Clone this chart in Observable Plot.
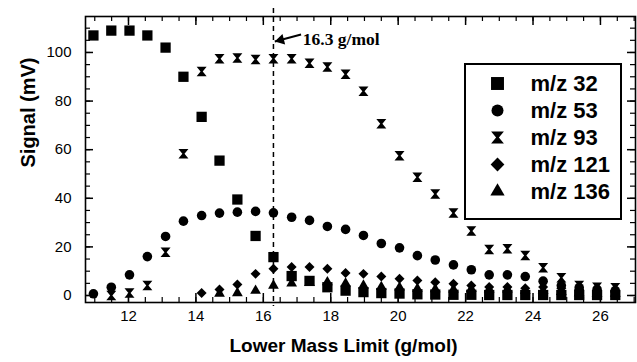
<!DOCTYPE html>
<html><head><meta charset="utf-8">
<script src="https://cdn.jsdelivr.net/npm/d3@7"></script>
<script src="https://cdn.jsdelivr.net/npm/@observablehq/plot@0.6"></script>
<style>
body{margin:0;background:#fff;}
#chart{position:relative;width:637px;height:362px;font-family:"Liberation Sans",Arial,sans-serif;}
#legend{position:absolute;left:464px;top:63px;width:154px;height:153px;border:2px solid #000;background:#fff;}
</style></head><body><div id="chart"><div id="legend"></div></div>
<script>
// ---- data ----
const massLimit = [10.96, 11.49, 12.03, 12.56, 13.1, 13.63, 14.17, 14.7, 15.23, 15.77,
  16.3, 16.84, 17.37, 17.9, 18.44, 18.97, 19.5, 20.04, 20.57, 21.1,
  21.64, 22.17, 22.7, 23.24, 23.77, 24.3, 24.84, 25.37, 25.9, 26.44];
const mz32 = [107, 109, 109, 107, 102, 90, 73.5, 55.5, 39.5, 24.5,
  15.8, 8, 6, 3.4, 2, 1.4, 1, 0.8, 0.5, 0.4,
  0.3, 0.3, 0.2, 0.2, 0.2, 0.2, 0.2, 0.2, 0.2, 0.2];
const mz53 = [0.7, 3.4, 8.5, 16, 24.3, 30.6, 32.9, 33.9, 34.3, 34.6,
  34, 32.2, 30.9, 28.4, 27.2, 24.7, 21.4, 19.6, 16.4, 14.6,
  12.6, 10.6, 8.5, 8.5, 7.8, 5.9, 4.1, 3.2, 2.5, 2];
const mz93 = [null, 0, 1, 4.1, 17.8, 58.3, 92.2, 97.4, 97.7, 97.1,
  97.4, 97.4, 95.6, 94, 91, 84, 70.7, 57.5, 48.7, 41.8,
  33.9, 26.5, 18.9, 19.2, 16.5, 11.4, 7.3, 4.1, 3.4, 3.2];
const mz121 = [null, null, null, null, null, null, 1, 2.5, 4.5, 8.9,
  11, 11.7, 11.7, 11, 9.3, 8.9, 7.8, 6.9, 6.2, 5.5,
  4.8, 4.1, 3.5, 3.5, 3, 3.5, 3, 2.5, 2, 1.5];
const mz136 = [null, null, null, null, null, null, null, 0.8, 1, 2,
  4.1, 5, 5.2, 5.5, 5, 4.1, 3.5, 3.3, 2.8, 2.6,
  2.5, 2.7, 2.5, 2.5, 2, 2, 1.5, 1, 0.8, 0.8];
const seriesNames = ["32", "53", "93", "121", "136"];
const xTicks = [12, 14, 16, 18, 20, 22, 24, 26];
const xMinorTicks = d3.range(11, 27.01, 0.5);
const yTicks = [0, 20, 40, 60, 80, 100];
const yMinorTicks = d3.range(0, 111, 5);
const cutoff = [16.3];
const cutoffLabel = [{x: 17.17, y: 105.2, text: "16.3 g/mol"}];
const cutoffArrow = [{x1: 17.12, y1: 107.4, x2: 16.34, y2: 104.5}];
const xTitle = "Lower Mass Limit (g/mol)";
const yTitle = "Signal (mV)";

// ---- symbols ----
const hourglass = {draw(ctx, size) {
  const w = Math.sqrt(size / Math.PI), h = w * 0.95, a = w * 0.22;
  ctx.moveTo(-w, -h); ctx.lineTo(w, -h); ctx.lineTo(a, 0);
  ctx.lineTo(w, h); ctx.lineTo(-w, h); ctx.lineTo(-a, 0); ctx.closePath();
}};
const seriesValues = [mz32, mz53, mz93, mz121, mz136];
const symbols = ["square", "circle", hourglass, "diamond2", "triangle"];
const plotR = [5.8, 4.8, 5, 4.5, 4];
const legendR = [7.3, 6, 6.4, 6.2, 5.3];
const pts = (ys) => massLimit.map((x, i) => ({x, y: ys[i]})).filter(d => d.y != null);

const W = 637, H = 362, mT = 16, mB = 60, mL = 85, mR = 2;
const innerW = W - mL - mR, innerH = H - mT - mB;
const font = "'Liberation Sans', Arial, sans-serif";

const chart = Plot.plot({
  width: W, height: H, marginTop: mT, marginBottom: mB, marginLeft: mL, marginRight: mR,
  style: {fontFamily: font, fontSize: "15px", color: "#000", background: "#fff", overflow: "visible"},
  x: {domain: [10.725, 27.04]},
  y: {domain: [-2.88, 114.8]},
  marks: [
    // inward ticks: bottom / top
    Plot.tickX(xMinorTicks, {x: d => d, insetTop: innerH - 5, stroke: "#000", strokeWidth: 1.2}),
    Plot.tickX(xTicks, {x: d => d, insetTop: innerH - 9, stroke: "#000", strokeWidth: 1.5}),
    Plot.tickX(xMinorTicks, {x: d => d, insetBottom: innerH - 5, stroke: "#000", strokeWidth: 1.2}),
    Plot.tickX(xTicks, {x: d => d, insetBottom: innerH - 9, stroke: "#000", strokeWidth: 1.5}),
    // inward ticks: left / right
    Plot.tickY(yMinorTicks, {y: d => d, insetRight: innerW - 5, stroke: "#000", strokeWidth: 1.2}),
    Plot.tickY(yTicks, {y: d => d, insetRight: innerW - 8, stroke: "#000", strokeWidth: 1.5}),
    Plot.tickY(yMinorTicks, {y: d => d, insetLeft: innerW - 5, stroke: "#000", strokeWidth: 1.2}),
    Plot.tickY(yTicks, {y: d => d, insetLeft: innerW - 8, stroke: "#000", strokeWidth: 1.5}),
    Plot.axisX({ticks: xTicks, tickSize: 0, tickPadding: 8, label: null, fontSize: 15}),
    Plot.axisY({ticks: yTicks, tickSize: 0, tickPadding: 14, label: null, fontSize: 15}),
    Plot.frame({stroke: "#000", strokeWidth: 1.6}),
    Plot.ruleX(cutoff, {x: d => d, insetTop: -8, insetBottom: -4, stroke: "#000", strokeWidth: 1.5, strokeDasharray: "5,4"}),
    Plot.link(cutoffArrow, {x1: "x1", y1: "y1", x2: "x2", y2: "y2", stroke: "#000", strokeWidth: 2}),
    Plot.dot(cutoffArrow, {x: "x2", y: "y2", symbol: "triangle", r: 4, rotate: -104, dx: 6, dy: -1.5, fill: "#000"}),
    Plot.text(cutoffLabel, {x: "x", y: "y", text: "text", textAnchor: "start", fontFamily: "'Liberation Serif', 'Times New Roman', serif", fontWeight: "bold", fontSize: 17.5}),
    ...seriesValues.map((ys, k) => Plot.dot(pts(ys), {x: "x", y: "y", symbol: symbols[k], r: plotR[k], fill: "#000"})),
    Plot.text([yTitle], {frameAnchor: "left", dx: -57, dy: 8, rotate: -90, text: d => d, fontWeight: "bold", fontSize: 20}),
    Plot.text([xTitle], {frameAnchor: "bottom", dx: -17, dy: 49, text: d => d, fontWeight: "bold", fontSize: 19})
  ]
});
document.getElementById("chart").prepend(chart);

const legend = Plot.plot({
  width: 154, height: 153, marginTop: 17, marginBottom: 26, marginLeft: 0, marginRight: 0,
  style: {fontFamily: font, color: "#000", background: "#fff"},
  x: {axis: null, domain: [0, 1]},
  y: {type: "point", domain: seriesNames, padding: 0, axis: null},
  marks: [
    ...seriesNames.map((n, k) => Plot.dot([n], {y: d => d, frameAnchor: "left", dx: 31, symbol: symbols[k], r: legendR[k], fill: "#000"})),
    Plot.text(seriesNames, {y: d => d, frameAnchor: "left", dx: 64, text: d => `m/z ${d}`, textAnchor: "start", fontSize: 22, fontWeight: "bold"})
  ]
});
document.getElementById("legend").append(legend);
</script>
</body></html>
